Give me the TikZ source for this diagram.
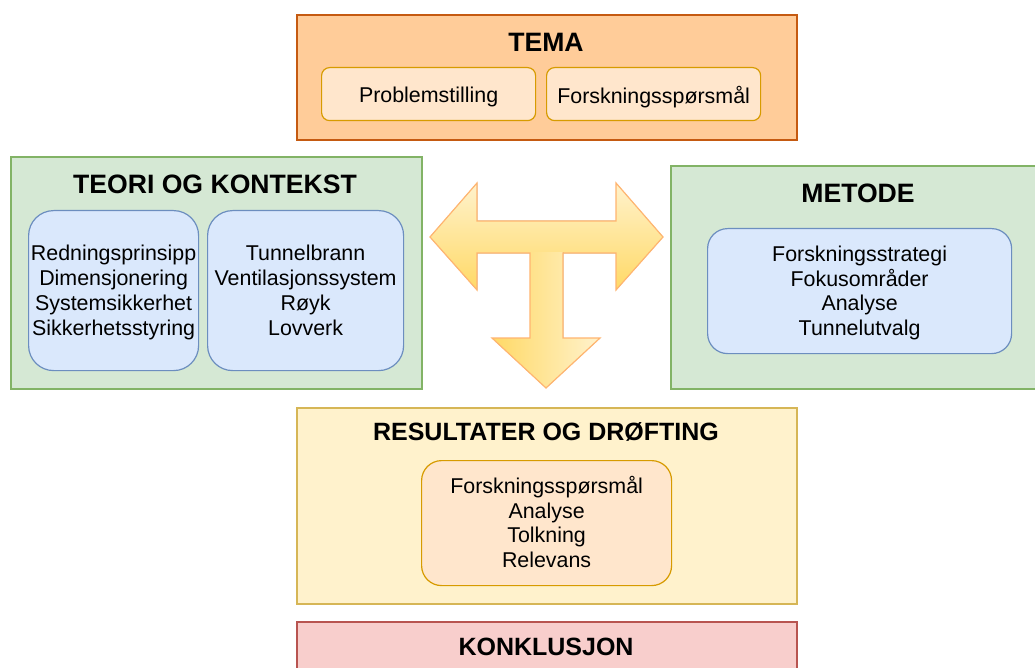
\documentclass[tikz,border=0pt]{standalone}
\usepackage{fontspec}
\setmainfont{Liberation Sans}
\definecolor{temaFill}{HTML}{FFCC99}
\definecolor{temaLine}{HTML}{C55A11}
\definecolor{subFill}{HTML}{FFE6CC}
\definecolor{subLine}{HTML}{D79B00}
\definecolor{greenFill}{HTML}{D5E8D4}
\definecolor{greenLine}{HTML}{82B366}
\definecolor{blueFill}{HTML}{DAE8FC}
\definecolor{blueLine}{HTML}{6C8EBF}
\definecolor{yellowFill}{HTML}{FFF2CC}
\definecolor{yellowLine}{HTML}{D6B656}
\definecolor{redFill}{HTML}{F8CECC}
\definecolor{redLine}{HTML}{B85450}
\definecolor{arrowLight}{HTML}{FFF2CC}
\definecolor{arrowDark}{HTML}{FFD966}
\definecolor{arrowLine}{HTML}{FFB570}
% text block lowered a little inside its box, keeping its measured size
\newcommand{\lowered}[1]{\raisebox{-2.5pt}[\height][\depth]{#1}}
\newcommand{\stack}[1]{\lowered{\begin{tabular}{@{}c@{}}#1\end{tabular}}}
\begin{document}
\begin{tikzpicture}[x=1pt,y=-1pt,
  outerbox/.style={draw, line width=1.6pt, anchor=north west, inner sep=0pt},
  innerbox/.style={draw, line width=1.2pt, anchor=north west, inner sep=0pt,
    font=\fontsize{21.4}{24.8}\selectfont, align=center},
  titletext/.style={font=\fontsize{26.6}{30}\selectfont\bfseries, inner sep=0pt},
  smalltitle/.style={titletext, font=\fontsize{25}{30}\selectfont\bfseries}]
\useasboundingbox (0,0) rectangle (1035,668);
\fill[white] (0,0) rectangle (1035,668);

% TEMA
\node[outerbox, fill=temaFill, draw=temaLine, minimum width=500pt, minimum height=125pt] (tema) at (296,14) {};
\node[titletext] (tematitle) at (546,42) {TEMA};
\node[innerbox, fill=subFill, draw=subLine, rounded corners=8pt, minimum width=214pt, minimum height=53pt] (problem) at (321,67) {\lowered{Problemstilling}};
\node[innerbox, fill=subFill, draw=subLine, rounded corners=8pt, minimum width=214pt, minimum height=53pt] (fsp) at (546,67) {\lowered{Forskningsspørsmål}};

% TEORI OG KONTEKST
\node[outerbox, fill=greenFill, draw=greenLine, minimum width=411pt, minimum height=232pt] (teori) at (10,156) {};
\node[titletext] (teorititle) at (215,184) {TEORI OG KONTEKST};
\node[innerbox, fill=blueFill, draw=blueLine, rounded corners=25pt, minimum width=170pt, minimum height=160pt] (teoria) at (28,210)
  {\stack{Redningsprinsipp\\Dimensjonering\\Systemsikkerhet\\Sikkerhetsstyring}};
\node[innerbox, fill=blueFill, draw=blueLine, rounded corners=25pt, minimum width=196pt, minimum height=160pt] (teorib) at (207,210)
  {\stack{Tunnelbrann\\Ventilasjonssystem\\Røyk\\Lovverk}};

% METODE
\node[outerbox, fill=greenFill, draw=greenLine, minimum width=370pt, minimum height=223pt] (metode) at (670,165) {};
\node[titletext] (metodetitle) at (858,193) {METODE};
\node[innerbox, fill=blueFill, draw=blueLine, rounded corners=20pt, minimum width=304pt, minimum height=125pt] (metodein) at (707,228)
  {\stack{Forskningsstrategi\\Fokusområder\\Analyse\\Tunnelutvalg}};

% Three-way arrow
\fill[top color=arrowLight, bottom color=arrowDark]
  (430,237) -- (477,183) -- (477,221) -- (616,221) -- (616,183) -- (663,237)
  -- (616,290) -- (616,253) -- (477,253) -- (477,290) -- cycle;
\fill[left color=arrowDark, right color=arrowLight]
  (530,252) -- (563,252) -- (563,338) -- (600,338) -- (546,388) -- (492,338) -- (530,338) -- cycle;
\draw[arrowLine, line width=1.2pt, line join=miter]
  (430,237) -- (477,183) -- (477,221) -- (616,221) -- (616,183) -- (663,237)
  -- (616,290) -- (616,253) -- (563,253) -- (563,338) -- (600,338) -- (546,388)
  -- (492,338) -- (530,338) -- (530,253) -- (477,253) -- (477,290) -- cycle;

% RESULTATER OG DRØFTING
\node[outerbox, fill=yellowFill, draw=yellowLine, minimum width=500pt, minimum height=196pt] (result) at (296,407) {};
\node[smalltitle] (resulttitle) at (546,432) {RESULTATER OG DRØFTING};
\node[innerbox, fill=subFill, draw=subLine, rounded corners=20pt, minimum width=250pt, minimum height=125pt] (resultin) at (421,460)
  {\stack{Forskningsspørsmål\\Analyse\\Tolkning\\Relevans}};

% KONKLUSJON
\node[outerbox, fill=redFill, draw=redLine, minimum width=500pt, minimum height=60pt] (konklusjon) at (296,621) {};
\node[smalltitle] (konktitle) at (546,647) {KONKLUSJON};
\end{tikzpicture}
\end{document}
